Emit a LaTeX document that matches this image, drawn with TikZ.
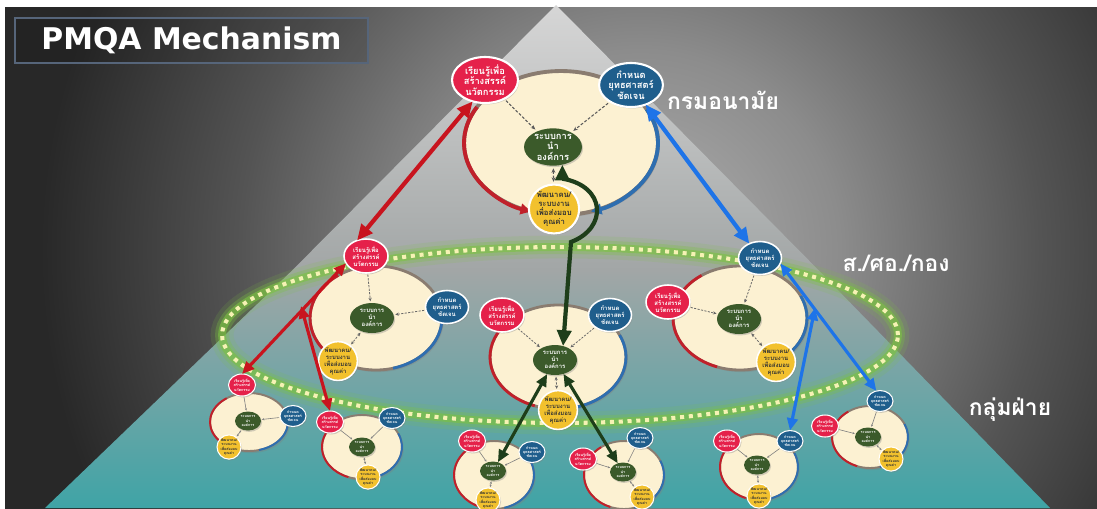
\documentclass[tikz,border=0pt]{standalone}
\usepackage{fontspec}
\usetikzlibrary{shapes.geometric,arrows.meta,shadows}
\newfontfamily\thaifont[Script=Thai]{Loma}
\newfontfamily\titlefont{DejaVu Sans}
\definecolor{cream}{HTML}{FCF1D2}
\definecolor{cred}{HTML}{E5214A}
\definecolor{cblue}{HTML}{1F5E8C}
\definecolor{cgreen}{HTML}{3B5A2A}
\definecolor{cyel}{HTML}{F2C12E}
\definecolor{ared}{HTML}{C8141E}
\definecolor{ablue}{HTML}{1E74E8}
\definecolor{agreen}{HTML}{1E3E1A}
\definecolor{rimgray}{HTML}{8A7C70}
\definecolor{rimred}{HTML}{C0202A}
\definecolor{rimblue}{HTML}{2E6EB0}
\definecolor{bgA}{HTML}{B0B0B0}
\definecolor{bgB}{HTML}{8C8C8C}
\definecolor{bgC}{HTML}{545454}
\definecolor{bgdark}{HTML}{282828}
\definecolor{pyrtop}{HTML}{D6D6D6}
\definecolor{pyrmid}{HTML}{A2A6A6}
\definecolor{pyrteal}{HTML}{66AEAE}
\definecolor{pyrbot}{HTML}{3FA4A6}
\definecolor{glow}{HTML}{7CC242}
\definecolor{dotc}{HTML}{F6F2B4}
\definecolor{boxline}{HTML}{56657A}
\pgfdeclareradialshading{bgshade}{\pgfpoint{0cm}{0cm}}{color(0cm)=(bgA); color(4cm)=(bgB); color(8cm)=(bgC); color(12cm)=(bgdark); color(24cm)=(bgdark)}
\newcommand\txR{เรียนรู้เพื่อ\\สร้างสรรค์\\นวัตกรรม}
\newcommand\txB{กำหนด\\ยุทธศาสตร์\\ชัดเจน}
\newcommand\txG{ระบบการ\\นำ\\องค์การ}
\newcommand\txY{พัฒนาคน/\\ระบบงาน\\เพื่อส่งมอบ\\คุณค่า}
\tikzset{
  sm/.style={ellipse, draw=white, inner sep=0pt, outer sep=0pt, align=center,
    drop shadow={shadow xshift=0.6pt, shadow yshift=-0.8pt, opacity=0.35}},
  bigc/.style={ellipse, fill=cream, draw=rimgray, inner sep=0pt, outer sep=0pt,
    drop shadow={shadow xshift=1pt, shadow yshift=-1.2pt, opacity=0.35}},
  rimA/.style={line width=2.2pt}, rimB/.style={line width=1.6pt}, rimC/.style={line width=1.1pt},
  fA/.style={font=\thaifont\bfseries\fontsize{5.3}{6}\selectfont},
  fAy/.style={font=\thaifont\bfseries\fontsize{4.4}{5}\selectfont},
  fB/.style={font=\thaifont\bfseries\fontsize{3.4}{4}\selectfont},
  fC/.style={font=\thaifont\bfseries\fontsize{2.1}{2.5}\selectfont},
  redA/.style={sm, fA, fill=cred, text=white, line width=1.2pt, minimum width=1.32cm, minimum height=0.92cm},
  blueA/.style={sm, fA, fill=cblue, text=white, line width=1.2pt, minimum width=1.24cm, minimum height=0.88cm},
  greenA/.style={sm, fA, fill=cgreen, text=white, draw=none, minimum width=1.16cm, minimum height=0.74cm},
  yelA/.style={sm, fAy, fill=cyel, text=black!80, line width=1.2pt, minimum width=0.84cm, minimum height=0.76cm},
  redB/.style={sm, fB, fill=cred, text=white, line width=0.9pt, minimum width=0.88cm, minimum height=0.68cm},
  blueB/.style={sm, fB, fill=cblue, text=white, line width=0.9pt, minimum width=0.86cm, minimum height=0.66cm},
  greenB/.style={sm, fB, fill=cgreen, text=white, draw=none, minimum width=0.88cm, minimum height=0.6cm},
  yelB/.style={sm, fB, fill=cyel, text=black!80, line width=0.9pt, minimum width=0.76cm, minimum height=0.56cm},
  redC/.style={sm, fC, fill=cred, text=white, line width=0.6pt, minimum width=0.54cm, minimum height=0.44cm},
  blueC/.style={sm, fC, fill=cblue, text=white, line width=0.6pt, minimum width=0.52cm, minimum height=0.42cm},
  greenC/.style={sm, fC, fill=cgreen, text=white, draw=none, minimum width=0.52cm, minimum height=0.38cm},
  yelC/.style={sm, fC, fill=cyel, text=black!80, line width=0.6pt, minimum width=0.44cm, minimum height=0.36cm},
  dconA/.style={draw=black!65, line width=0.6pt, dash pattern=on 1.6pt off 1pt, shorten >=1.5pt, shorten <=1.5pt, >={Stealth[length=2.6pt,width=2.2pt]}},
  dconB/.style={draw=black!60, line width=0.45pt, dash pattern=on 1.2pt off 0.8pt, shorten >=1pt, shorten <=1pt, >={Stealth[length=2pt,width=1.8pt]}},
  dconC/.style={draw=black!50, line width=0.35pt, shorten >=0.6pt, shorten <=0.6pt, >={Stealth[length=1.3pt,width=1.2pt]}},
  bigarr/.style={line width=2.4pt, {Triangle[length=9pt,width=8pt]}-{Triangle[length=9pt,width=8pt]}},
  midarr/.style={line width=1.8pt, {Triangle[length=7pt,width=6pt]}-{Triangle[length=7pt,width=6pt]}},
  lbl/.style={text=white, font=\thaifont\bfseries\fontsize{13}{15}\selectfont}
}
\newcommand\mkcluster[9]{%
  \node[bigc, rim#9, minimum width=2*#3cm, minimum height=2*#4cm] (#1big) at #2 {};
  \draw[rim#9, rimred] (#1big.center) ++(125:#3cm and #4cm) arc[start angle=125, end angle=250, x radius=#3cm, y radius=#4cm];
  \draw[rim#9, rimblue] (#1big.center) ++(-75:#3cm and #4cm) arc[start angle=-75, end angle=25, x radius=#3cm, y radius=#4cm];
  \node[red#9] (#1R) at #5 {\txR};
  \node[blue#9] (#1B) at #6 {\txB};
  \node[green#9] (#1G) at #7 {\txG};
  \node[yel#9] (#1Y) at #8 {\txY};
  \draw[dcon#9, ->] (#1R) -- (#1G);
  \draw[dcon#9, ->] (#1B) -- (#1G);
  \draw[dcon#9, <->] (#1G) -- (#1Y);
}
\begin{document}
\begin{tikzpicture}[x=0.02cm, y=-0.02cm]
\useasboundingbox (0,0) rectangle (1097,508);
% background
\fill[white] (0,0) rectangle (1097,508);
\begin{scope}
  \clip (5,7) rectangle (1097,508);
  \node[inner sep=0pt, outer sep=0pt] (bgglow) at (640,250) {\pgfuseshading{bgshade}};
\end{scope}
% pyramid: upper grey part and lower teal part
\shade[top color=pyrtop, bottom color=pyrmid] (556,5) -- (818.4,270) -- (292.6,270) -- cycle;
\shade[top color=pyrmid, middle color=pyrteal, bottom color=pyrbot] (292.6,270) -- (818.4,270) -- (1050,508) -- (45,508) -- cycle;
% glowing dotted ring
\draw[glow, opacity=0.15, line width=13pt] (560,335) ellipse [x radius=6.76cm, y radius=1.76cm];
\draw[glow, opacity=0.3, line width=8pt] (560,335) ellipse [x radius=6.76cm, y radius=1.76cm];
\draw[glow, opacity=0.6, line width=4.5pt] (560,335) ellipse [x radius=6.76cm, y radius=1.76cm];
\draw[dotc, line width=2.3pt, dash pattern=on 2.3pt off 2.7pt] (560,335) ellipse [x radius=6.76cm, y radius=1.76cm];

% top cluster
\node[bigc, rimA, minimum width=3.88cm, minimum height=2.88cm] (tbig) at (561,143) {};
\draw[rimA, rimred, -{Triangle[length=6pt,width=6pt]}] (tbig.center) ++(150:1.94cm and 1.44cm) arc[start angle=150, end angle=252, x radius=1.94cm, y radius=1.44cm];
\draw[rimA, rimblue, -{Triangle[length=6pt,width=6pt]}] (tbig.center) ++(28:1.94cm and 1.44cm) arc[start angle=28, end angle=-72, x radius=1.94cm, y radius=1.44cm];
\node[redA] (tR) at (485,80) {\txR};
\node[blueA] (tB) at (631,85) {\txB};
\node[greenA] (tG) at (553,147) {\txG};
\node[yelA] (tY) at (554,209) {\txY};
\draw[dconA, ->] (tR) -- (tG);
\draw[dconA, ->] (tB) -- (tG);
\draw[dconA, <->] (tG) -- (tY);

% middle level
\mkcluster{ml}{(376,318)}{1.32}{1.04}{(366,256)}{(447,307)}{(372,318)}{(338,361)}{B}
\mkcluster{mc}{(558,357)}{1.36}{1.04}{(502,315)}{(610,315)}{(555,360)}{(558,410)}{B}
\mkcluster{mr}{(740,318)}{1.34}{1.04}{(668,302)}{(760,258)}{(739,319)}{(776,362)}{B}

% bottom level
\mkcluster{ba}{(249,422)}{0.78}{0.58}{(242,385)}{(293,416)}{(248,421)}{(229,447)}{C}
\mkcluster{bb}{(362,447)}{0.80}{0.64}{(330,422)}{(392,418)}{(362,447)}{(368,477)}{C}
\mkcluster{bc}{(494,475)}{0.80}{0.68}{(472,441)}{(532,452)}{(493,471)}{(488,500)}{C}
\mkcluster{bd}{(624,475)}{0.80}{0.68}{(583,459)}{(640,438)}{(623,472)}{(642,497)}{C}
\mkcluster{be}{(759,467)}{0.78}{0.66}{(727,441)}{(790,441)}{(757,465)}{(759,496)}{C}
\mkcluster{bf}{(870,437)}{0.76}{0.62}{(825,426)}{(880,401)}{(868,437)}{(891,459)}{C}

% connectors between levels
\coordinate (mlIn) at (301,306);
\coordinate (mrIn) at (815,308);
\draw[bigarr, ared] (tR.240) -- (mlR.120);
\draw[bigarr, ablue] (tB) -- (mrB);
\draw[bigarr, agreen] (tG.-62) -- ++(0,14) .. controls (606,186) and (608,228) .. (571,242) -- (mcG.60);
\draw[midarr, ared] (mlR.200) -- (baR.north);
\draw[midarr, ared] (mlIn) -- (bbR.north);
\draw[midarr, agreen] (mcG) -- (bcG);
\draw[midarr, agreen] (mcG) -- (bdG);
\draw[midarr, ablue] (mrB.-15) -- (bfB.110);
\draw[midarr, ablue] (mrIn) -- (beB.north);

% level labels
\node[lbl] (l1) at (723,100) {กรมอนามัย};
\node[lbl] (l2) at (896,263) {ส./ศอ./กอง};
\node[lbl] (l3) at (1010,410) {กลุ่มฝ่าย};

% title
\node[draw=boxline, line width=0.8pt, fill=black, fill opacity=0.12, text opacity=1,
  minimum width=7.06cm, minimum height=0.9cm, text=white,
  font=\titlefont\bfseries\fontsize{17}{20}\selectfont] (title) at (191.5,40.5) {PMQA Mechanism};
\end{tikzpicture}
\end{document}
